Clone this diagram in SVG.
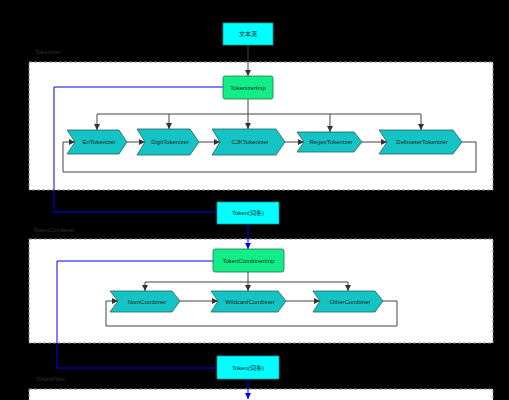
<svg xmlns="http://www.w3.org/2000/svg" width="509" height="400" viewBox="0 0 509 400">
<defs>
<marker id="ag" viewBox="0 0 10 10" refX="10" refY="5" markerWidth="6" markerHeight="6" orient="auto" markerUnits="userSpaceOnUse"><path d="M0,0 L10,5 L0,10 z" fill="#333"/></marker>
<marker id="ab" viewBox="0 0 10 10" refX="10" refY="5" markerWidth="6" markerHeight="6" orient="auto" markerUnits="userSpaceOnUse"><path d="M0,0 L10,5 L0,10 z" fill="#0000ee"/></marker>
</defs>
<style>
.grp{fill:#fff;stroke:#888;stroke-width:1;stroke-dasharray:3,2}
.glab{font-family:"Liberation Sans",Arial,sans-serif;font-size:6px;fill:#333}
.t{font-family:"Liberation Sans","Noto Sans CJK SC",sans-serif;font-size:6px;fill:#222;text-anchor:middle;dominant-baseline:central}
.cy{fill:#00ffff;stroke:#0a9a9a;stroke-width:0.8}
.gr{fill:#11ee88;stroke:#227744;stroke-width:0.8}
.ch{fill:#14c3c3;stroke:#2a6060;stroke-width:0.8}
.cg{fill:none;stroke:#444;stroke-width:1}
.cb{fill:none;stroke:#0000ee;stroke-width:1}
</style>
<rect x="0" y="0" width="509" height="400" fill="#000"/>
<g id="group-tokenizer">
<text class="glab" x="35" y="54">Tokenizer</text>
<rect class="grp" x="29" y="62" width="464" height="128"/>
</g>
<g id="group-combiner">
<text class="glab" x="33" y="232">TokenCombiner</text>
<rect class="grp" x="29" y="239" width="464" height="104"/>
</g>
<g id="group-filter">
<text class="glab" x="36" y="381">TokenFilter</text>
<rect class="grp" x="29" y="389" width="464" height="20"/>
</g>
<g id="connectors">
<path class="cg" d="M248,45 V76" marker-end="url(#ag)"/>
<path class="cg" d="M248,99 V114"/>
<path class="cg" d="M97,114 H421"/>
<path class="cg" d="M97,114 V130" marker-end="url(#ag)"/>
<path class="cg" d="M169,114 V129" marker-end="url(#ag)"/>
<path class="cg" d="M248,114 V129" marker-end="url(#ag)"/>
<path class="cg" d="M330,114 V132" marker-end="url(#ag)"/>
<path class="cg" d="M421,114 V130" marker-end="url(#ag)"/>
<path class="cg" d="M127,142 H145" marker-end="url(#ag)"/>
<path class="cg" d="M199,142 H220" marker-end="url(#ag)"/>
<path class="cg" d="M285,142 H304" marker-end="url(#ag)"/>
<path class="cg" d="M362,142 H387" marker-end="url(#ag)"/>
<path class="cg" d="M462,142 H476 V172 H63 V142 H75" marker-end="url(#ag)"/>
<path class="cb" d="M223,87 H54 V212 H217"/>
<path class="cb" d="M248,224 V249" marker-end="url(#ab)"/>
<path class="cg" d="M248,272 V282"/>
<path class="cg" d="M145,282 H348"/>
<path class="cg" d="M145,282 V291" marker-end="url(#ag)"/>
<path class="cg" d="M248,282 V291" marker-end="url(#ag)"/>
<path class="cg" d="M348,282 V291" marker-end="url(#ag)"/>
<path class="cg" d="M180,301 H218" marker-end="url(#ag)"/>
<path class="cg" d="M286,301 H320" marker-end="url(#ag)"/>
<path class="cg" d="M383,301 H397 V326 H106 V301 H118" marker-end="url(#ag)"/>
<path class="cb" d="M213,261 H57 V368 H217"/>
<path class="cb" d="M248,379 V399" marker-end="url(#ab)"/>
</g>
<g id="n-text">
<rect class="cy" x="223" y="23" width="50" height="22"/>
<text class="t" x="248" y="34">文本流</text>
</g>
<g id="n-tokenizerimp">
<rect class="gr" x="223" y="76" width="50" height="23" rx="2"/>
<text class="t" x="248" y="87.5">TokenizerImp</text>
</g>
<g id="n-en">
<polygon class="ch" points="67,130 119,130 127,142 119,154 67,154 75,142"/>
<text class="t" x="99" y="142">EnTokenizer</text>
</g>
<g id="n-digit">
<polygon class="ch" points="137,129 190,129 199,142 190,155 137,155 145,142"/>
<text class="t" x="170" y="142">DigitTokenizer</text>
</g>
<g id="n-cjk">
<polygon class="ch" points="212,129 276,129 285,142 276,155 212,155 220,142"/>
<text class="t" x="250" y="142">CJKTokenizer</text>
</g>
<g id="n-regex">
<polygon class="ch" points="297,132 354,132 362,142 354,152 297,152 304,142"/>
<text class="t" x="331" y="142">RegexTokenizer</text>
</g>
<g id="n-delim">
<polygon class="ch" points="379,130 453,130 462,142 453,154 379,154 387,142"/>
<text class="t" x="422" y="142">DelimeterTokenizer</text>
</g>
<g id="n-token1">
<rect class="cy" x="217" y="202" width="62" height="22"/>
<text class="t" x="248" y="213">Token(词条)</text>
</g>
<g id="n-combinerimp">
<rect class="gr" x="213" y="249" width="71" height="23" rx="2"/>
<text class="t" x="248.5" y="260.5">TokenCombinerImp</text>
</g>
<g id="n-num">
<polygon class="ch" points="110,291 172,291 180,301 172,312 110,312 118,301"/>
<text class="t" x="147" y="301.5">NumCombiner</text>
</g>
<g id="n-wild">
<polygon class="ch" points="211,291 278,291 286,301 278,312 211,312 218,301"/>
<text class="t" x="250" y="301.5">WildcardCombiner</text>
</g>
<g id="n-other">
<polygon class="ch" points="313,291 375,291 383,301 375,312 313,312 320,301"/>
<text class="t" x="350" y="301.5">OtherCombiner</text>
</g>
<g id="n-token2">
<rect class="cy" x="217" y="356" width="62" height="23"/>
<text class="t" x="248" y="367.5">Token(词条)</text>
</g>
</svg>
